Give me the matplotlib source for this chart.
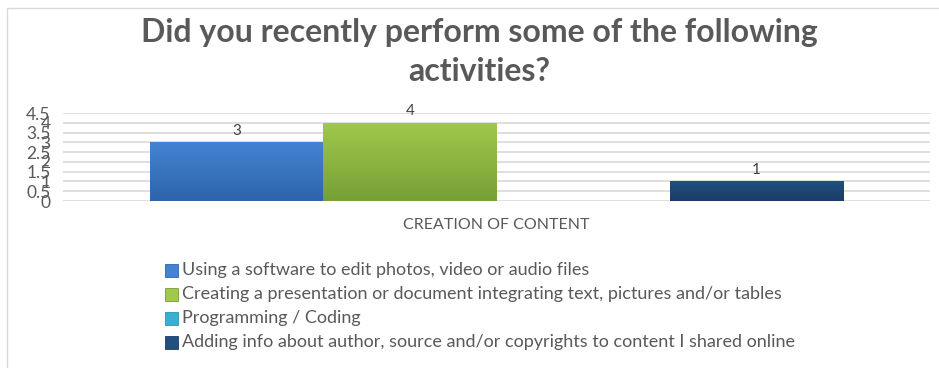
import numpy as np
import matplotlib.pyplot as plt
from matplotlib.colors import LinearSegmentedColormap
from matplotlib.patches import Rectangle

plt.rcParams['font.family'] = ['Lato', 'DejaVu Sans']

# data
category = "CREATION OF CONTENT"
activities = ["Using a software to edit photos, video or audio files",
              "Creating a presentation or document integrating text, pictures and/or tables",
              "Programming / Coding",
              "Adding info about author, source and/or copyrights to content I shared online"]
counts = [3, 4, 0, 1]
yticks = [0, 0.5, 1, 1.5, 2, 2.5, 3, 3.5, 4, 4.5]

# top / bottom shades for the gradient fill
shades = [("#4383D3", "#2E64AA"),
          ("#A0C84C", "#76A036"),
          ("#38B0D0", "#2A93B3"),
          ("#21507F", "#1A3C66")]

grey = "#595959"

fig = plt.figure(figsize=(9.39, 3.68), dpi=100)
ax = fig.add_axes([63/939, 1 - 201/368, 867/939, 88/368])

width = 0.2
n = len(counts)
xs = [(i - (n - 1) / 2) * width for i in range(n)]

bars = ax.bar(xs, counts, width=width, color=[s[0] for s in shades],
              label=activities, zorder=2)

for rect, (top, bot), v in zip(bars, shades, counts):
    if v == 0:
        continue
    cmap = LinearSegmentedColormap.from_list("g", [bot, top])
    grad = np.linspace(0, 1, 64).reshape(-1, 1)
    x0 = rect.get_x()
    im = ax.imshow(grad, cmap=cmap, origin='lower', aspect='auto',
                   extent=[x0, x0 + width, 0, v], zorder=3)
    im.set_clip_path(rect)
    ax.text(rect.get_x() + width / 2, v + 0.22, str(v), ha='center', va='bottom',
            fontsize=11, color="#404040", zorder=4)

ax.set_xlim(-0.5, 0.5)
ax.set_ylim(0, 4.5)
ax.set_yticks(yticks)
ax.set_yticklabels([f"{t:g}" for t in yticks])
ax.tick_params(axis='y', length=0, pad=9, labelsize=12.5, labelcolor=grey)
ax.set_xticks([])
ax.yaxis.grid(True, color="#D9D9D9", linewidth=1.2, zorder=0)
ax.set_axisbelow(True)
for s in ax.spines.values():
    s.set_visible(False)

fig.text(496/939, 1 - 225/368, category, ha='center', va='center',
         fontsize=11.5, color=grey)

fig.text(479/939, 1 - 52/368, "Did you recently perform some of the following\nactivities?",
         ha='center', va='center', fontsize=23, fontweight='bold', color=grey,
         linespacing=1.45)

# legend drawn as squares + text
for i, (label, (top, bot)) in enumerate(zip(activities, shades)):
    y = 270 + i * 24
    fig.patches.append(Rectangle((165/939, 1 - (y + 6.5)/368), 13/939, 13/368,
                                 transform=fig.transFigure, facecolor=top,
                                 edgecolor=bot, linewidth=0.6))
    fig.text(182/939, 1 - y/368, label, ha='left', va='center',
             fontsize=13, color=grey)

# outer frame
fig.patches.append(Rectangle((7/939, -0.05), 1.1, 1 - 8/368 + 0.05,
                             transform=fig.transFigure, fill=False,
                             edgecolor="#D9D9D9", linewidth=1))

fig.savefig("out.png", dpi=100)
